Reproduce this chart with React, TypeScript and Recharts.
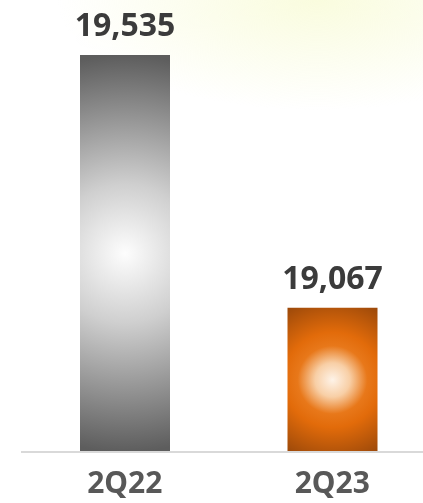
import { BarChart, Bar, XAxis, YAxis, Cell, LabelList } from 'recharts';

const quarters = ['2Q22', '2Q23'];
const values = [19535, 19067];
const fills = ['url(#gradGray)', 'url(#gradOrange)'];

const data = quarters.map((q, i) => ({ name: q, value: values[i], fill: fills[i] }));

const font = '"Noto Sans", "DejaVu Sans", sans-serif';

export default function App() {
  return (
    <div
      style={{
        position: 'fixed',
        left: 0,
        top: 0,
        width: 423,
        height: 503,
        overflow: 'hidden',
        background:
          'radial-gradient(ellipse 260px 110px at 75% 0%, rgba(246,250,200,0.6), rgba(255,255,255,0) 100%)',
      }}
    >
      <BarChart
        width={436}
        height={503}
        data={data}
        margin={{ top: 55, right: 0, left: 21, bottom: 6 }}
        barCategoryGap={59}
      >
        <defs>
          <radialGradient
            id="gradGray"
            cx="0.5"
            cy="0.5"
            r="0.5"
            gradientTransform="translate(0.5,0.5) scale(4.5,1) translate(-0.5,-0.5)"
          >
            <stop offset="0%" stopColor="#fdfdfd" />
            <stop offset="35%" stopColor="#cfcfcf" />
            <stop offset="100%" stopColor="#5d5d5d" />
          </radialGradient>
          <radialGradient
            id="gradOrange"
            cx="0.5"
            cy="0.5"
            r="0.59"
            gradientTransform="translate(0.5,0.5) scale(1.636,1) translate(-0.5,-0.5)"
          >
            <stop offset="0%" stopColor="#fef3e8" />
            <stop offset="20%" stopColor="#f8cfa6" />
            <stop offset="40%" stopColor="#e8781a" />
            <stop offset="56%" stopColor="#e26b0a" />
            <stop offset="100%" stopColor="#9a480a" />
          </radialGradient>
        </defs>
        <XAxis
          dataKey="name"
          axisLine={{ stroke: '#d9d9d9', strokeWidth: 2 }}
          tickLine={false}
          tickSize={0}
          tickMargin={20}
          height={45}
          tick={{ fill: '#585858', fontSize: 30, fontWeight: 700, fontFamily: font }}
        />
        <YAxis hide domain={[18800, 19535]} allowDataOverflow />
        <Bar dataKey="value" isAnimationActive={false}>
          {data.map((d, i) => (
            <Cell key={i} fill={d.fill} />
          ))}
          <LabelList
            dataKey="value"
            position="top"
            offset={19}
            formatter={(v: any) => Number(v).toLocaleString('en-US')}
            style={{ fill: '#3b3b3b', fontSize: 32, fontWeight: 700, fontFamily: font }}
          />
        </Bar>
      </BarChart>
    </div>
  );
}
